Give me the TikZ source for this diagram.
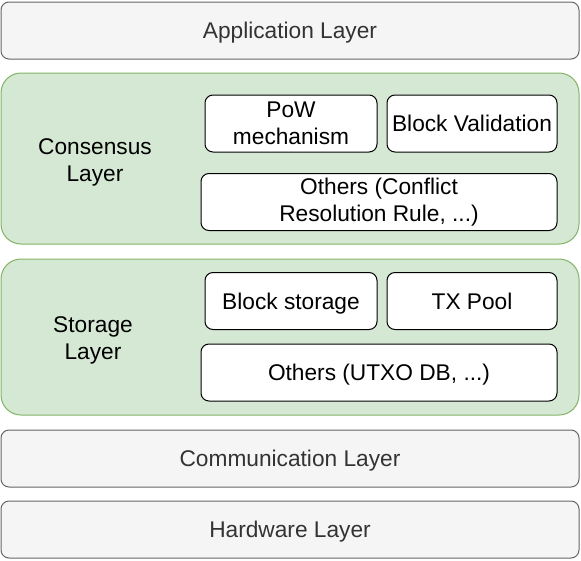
\documentclass[tikz,border=0pt]{standalone}
\usepackage{fontspec}
\setmainfont{Liberation Sans}
\definecolor{layerfill}{HTML}{F5F5F5}
\definecolor{layerdraw}{HTML}{666666}
\definecolor{layertext}{HTML}{333333}
\definecolor{greenfill}{HTML}{D5E8D4}
\definecolor{greendraw}{HTML}{82B366}
\tikzset{
  oneline/.style={text height=16pt, text depth=0pt},
  layer/.style={draw=layerdraw, fill=layerfill, text=layertext, rounded corners=8pt, line width=1pt, minimum width=578pt, minimum height=57pt, oneline, font=\fontsize{22.7}{26.5}\selectfont},
  group/.style={draw=greendraw, fill=greenfill, rounded corners=20pt, line width=1pt, minimum width=578pt},
  part/.style={draw, fill=white, rounded corners=8pt, line width=1pt, minimum height=57pt, inner sep=1pt, align=center, font=\fontsize{22.7}{26.5}\selectfont},
  lbl/.style={align=center, font=\fontsize{22.7}{26.5}\selectfont}
}
\begin{document}
\begin{tikzpicture}[x=1pt,y=-1pt]
\useasboundingbox (0,0) rectangle (581,560);
\node[layer] (app) at (290,30.5){Application Layer};
\node[group, minimum height=171pt] (cons) at (290,158.5){};
\node[lbl] (conslbl) at (95,162.5){Consensus\\Layer};
\node[part, minimum width=172pt] (pow) at (291,123.5){PoW\\mechanism};
\node[part, minimum width=170pt, oneline] (valid) at (472,123.5){Block Validation};
\node[part, minimum width=356pt] (consoth) at (379,202){Others (Conflict\\Resolution Rule, ...)};
\node[group, minimum height=156pt] (stor) at (290,337){};
\node[lbl] (storlbl) at (93,340.5){Storage\\Layer};
\node[part, minimum width=172pt, oneline] (blkstor) at (291,301){Block storage};
\node[part, minimum width=170pt, oneline] (txpool) at (472,301){TX Pool};
\node[part, minimum width=356pt, oneline] (storoth) at (379,372.5){Others (UTXO DB, ...)};
\node[layer] (comm) at (290,458.5){Communication Layer};
\node[layer] (hw) at (290,529.5){Hardware Layer};
\end{tikzpicture}
\end{document}
